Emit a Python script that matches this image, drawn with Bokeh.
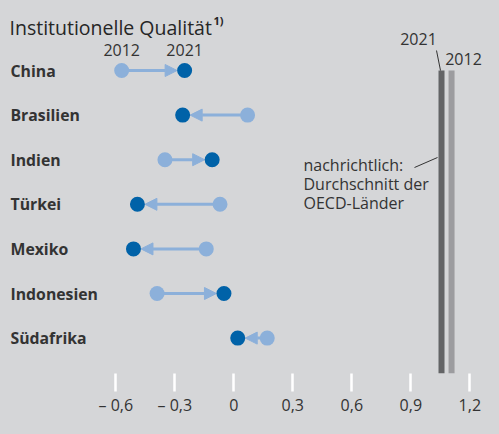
from bokeh.plotting import figure
from bokeh.models import (Range1d, LinearAxis, FixedTicker, CustomJSTickFormatter,
                          ColumnDataSource, Arrow, NormalHead, Label)
from bokeh.embed import file_html
from bokeh.resources import INLINE
from bokeh.core.properties import value

# ---------------- data ----------------
countries = ["China", "Brasilien", "Indien", "Türkei", "Mexiko", "Indonesien", "Südafrika"]
val_2012 = [-0.57, 0.07, -0.35, -0.07, -0.14, -0.39, 0.17]
val_2021 = [-0.25, -0.26, -0.11, -0.49, -0.51, -0.05, 0.02]
oecd_years = ["2021", "2012"]
oecd_values = [1.056, 1.107]
tick_values = [-0.6, -0.3, 0, 0.3, 0.6, 0.9, 1.2]
title_text = "Institutionelle Qualität"
note_lines = ["nachrichtlich:", "Durchschnitt der", "OECD-Länder"]

# ---------------- styling ----------------
BG = "#d5d6d8"
DARK = "#0062a8"
LIGHT = "#8cb0da"
BAR_DARK = "#636466"
BAR_LIGHT = "#9c9c9f"
TXT = "#333333"
FONT = "Open Sans"

W, H = 499, 434
PX_PER_UNIT = 196.7
X0 = 233.3          # page px of value 0
ROW0 = 70.0         # page px of first row
ROW_H = 44.6
FRAME_BOTTOM = 373
BOTTOM_BORDER = H - FRAME_BOTTOM


def X(px):
    return (px - X0) / PX_PER_UNIT


def Y(py):
    return (py - ROW0) / ROW_H


p = figure(width=W, height=H, output_backend="svg", toolbar_location=None,
           x_axis_type=None, y_axis_type=None,
           x_range=Range1d(X(0), X(W)),
           y_range=Range1d(Y(FRAME_BOTTOM), Y(0)),
           min_border_left=0, min_border_right=0, min_border_top=0,
           min_border_bottom=BOTTOM_BORDER)
p.background_fill_color = BG
p.border_fill_color = BG
p.outline_line_color = None
p.xgrid.visible = False
p.ygrid.visible = False

# axis
ax = LinearAxis(ticker=FixedTicker(ticks=tick_values),
                formatter=CustomJSTickFormatter(code="""
                    if (Math.abs(tick) < 1e-9) return "0";
                    const s = Math.abs(tick).toFixed(1).replace(".", ",");
                    return (tick < 0 ? "\u2013 " : "") + s;
                """))
ax.axis_line_color = None
ax.major_tick_in = 0
ax.major_tick_out = 18
ax.major_tick_line_color = "white"
ax.major_tick_line_width = 2.5
ax.minor_tick_line_color = None
ax.major_label_text_font = FONT
ax.major_label_text_font_size = "16px"
ax.major_label_text_color = TXT
ax.major_label_standoff = 2
p.add_layout(ax, "below")

rows = list(range(len(countries)))

# OECD bars
p.vbar(x=oecd_values, width=6 / PX_PER_UNIT, top=0, bottom=Y(FRAME_BOTTOM),
       fill_color=[BAR_DARK, BAR_LIGHT], line_color=None)

# arrows
r_dot = 7.5 / PX_PER_UNIT
x_end = [b - r_dot if b > a else b + r_dot for a, b in zip(val_2012, val_2021)]
src_arrow = ColumnDataSource(dict(xs=val_2012, ys=rows, xe=x_end, ye=rows))
arrow = Arrow(source=src_arrow, x_start="xs", y_start="ys", x_end="xe", y_end="ye",
              line_color=LIGHT, line_width=3,
              end=NormalHead(size=12, fill_color=LIGHT, line_color=LIGHT, line_width=1))
arrow.level = "underlay"
p.add_layout(arrow)

p.scatter(x=val_2012, y=rows, size=15, fill_color=LIGHT, line_color=None)
p.scatter(x=val_2021, y=rows, size=15, fill_color=DARK, line_color=None)

# country labels
p.text(x=[X(10)] * len(countries), y=rows, text=countries,
       text_font=value(FONT), text_font_style="bold", text_font_size="15.8px",
       text_color=TXT, text_baseline="middle", text_align="left")

# year headers above first row
p.text(x=[val_2012[0], val_2021[0]], y=[Y(49)] * 2, text=["2012", "2021"],
       text_font=value(FONT), text_font_size="16px", text_color=TXT,
       text_baseline="middle", text_align="center")

# title
p.add_layout(Label(x=X(9), y=Y(27), text=title_text, text_font=FONT,
                   text_font_size="19.5px", text_color="#262626", text_baseline="alphabetic",
                   text_font_style="normal"))
p.add_layout(Label(x=X(213), y=Y(20), text="1)", text_font=FONT,
                   text_font_size="11px", text_color="#262626", text_baseline="alphabetic",
                   text_font_style="bold"))

# OECD year labels with leader
p.text(x=[X(418), X(463)], y=[Y(38), Y(58)], text=oecd_years,
       text_font=value(FONT), text_font_size="16px", text_color=TXT,
       text_baseline="middle", text_align="center")
p.segment(x0=[X(436)], y0=[Y(50)], x1=[X(440)], y1=[Y(70)], line_color=TXT, line_width=1)

# note
for i, line in enumerate(note_lines):
    p.text(x=[X(303)], y=[Y(164 + 19 * i)], text=[line],
           text_font=value(FONT), text_font_size="16px", text_color=TXT,
           text_baseline="middle", text_align="left")
p.segment(x0=[X(414)], y0=[Y(167)], x1=[X(437)], y1=[Y(157)], line_color=TXT, line_width=1)

html = file_html(p, INLINE).replace("<head>", "<head><style>body{background:%s}</style>" % BG, 1)
open("out.html", "w").write(html)
